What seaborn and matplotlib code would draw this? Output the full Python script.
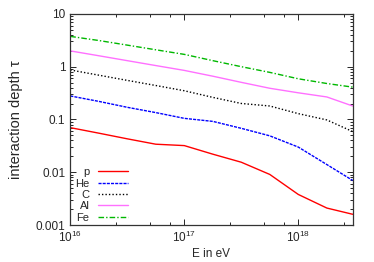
import numpy as np
import pandas as pd
import matplotlib
matplotlib.use("Agg")
import matplotlib.pyplot as plt
import matplotlib.ticker as mticker
import seaborn as sns

# energies (eV) and interaction depth per nucleus
energy = [1.0e16, 1.78e16, 3.16e16, 5.62e16, 1.0e17, 1.78e17, 3.16e17,
          5.62e17, 1.0e18, 1.78e18, 3.0e18]
tau_p = [0.070, 0.055, 0.043, 0.034, 0.032, 0.022, 0.0155, 0.0091, 0.0038, 0.0021, 0.0016]
tau_he = [0.279, 0.22, 0.17, 0.135, 0.105, 0.092, 0.068, 0.049, 0.030, 0.014, 0.007]
tau_c = [0.867, 0.69, 0.55, 0.44, 0.35, 0.262, 0.201, 0.18, 0.129, 0.098, 0.059]
tau_al = [1.99, 1.61, 1.30, 1.05, 0.85, 0.66, 0.505, 0.39, 0.32, 0.267, 0.18]
tau_fe = [3.75, 3.13, 2.56, 2.09, 1.71, 1.30, 1.0, 0.78, 0.59, 0.48, 0.41]

elements = ["p", "He", "C", "Al", "Fe"]
series = [tau_p, tau_he, tau_c, tau_al, tau_fe]

df = pd.concat([pd.DataFrame({"E": energy, "tau": s, "element": el})
                for el, s in zip(elements, series)], ignore_index=True)

sns.set_style("ticks")
plt.rcParams["font.family"] = ["Liberation Sans", "DejaVu Sans"]

colors = {"p": "#ff0000", "He": "#0000ff", "C": "#000000",
          "Al": "#ff70ff", "Fe": "#00b800"}
dashes = {"p": "", "He": (2.2, 0.8), "C": (1.0, 1.5),
          "Al": "", "Fe": (4, 1.5, 1, 1.5)}

fig = plt.figure(figsize=(3.74, 2.62), dpi=100)
ax = fig.add_axes([0.188, 0.141, 0.755, 0.806])

sns.lineplot(data=df, x="E", y="tau", hue="element", style="element",
             palette=colors, dashes=dashes, linewidth=1.0, ax=ax)

ax.set_xscale("log")
ax.set_yscale("log")
ax.set_xlim(1e16, 3e18)
ax.set_ylim(1e-3, 10)

ax.xaxis.set_minor_locator(mticker.LogLocator(base=10, subs=(2.5, 5, 7.5), numticks=20))
ax.xaxis.set_minor_formatter(mticker.NullFormatter())
ax.yaxis.set_minor_locator(mticker.LogLocator(base=10, subs=np.arange(2, 10), numticks=20))
ax.yaxis.set_major_formatter(mticker.FuncFormatter(lambda v, p: "%g" % v))

ax.tick_params(which="both", direction="in", top=True, right=True, labelsize=8.5, width=0.7)
ax.tick_params(which="major", length=4)
ax.tick_params(which="minor", length=2.2)
for sp in ax.spines.values():
    sp.set_linewidth(0.9)
    sp.set_color("#333333")

ax.set_xlabel("E in eV", fontsize=8.5, labelpad=2)
ax.set_ylabel("interaction depth τ", fontsize=10.5, labelpad=9)

ax.legend(loc="lower right", bbox_to_anchor=(0.206, 0.012), markerfirst=False,
          frameon=False, fontsize=8, handlelength=2.7, handletextpad=0.8,
          labelspacing=0.12, borderpad=0, borderaxespad=0)

fig.savefig("out.png", dpi=100)
